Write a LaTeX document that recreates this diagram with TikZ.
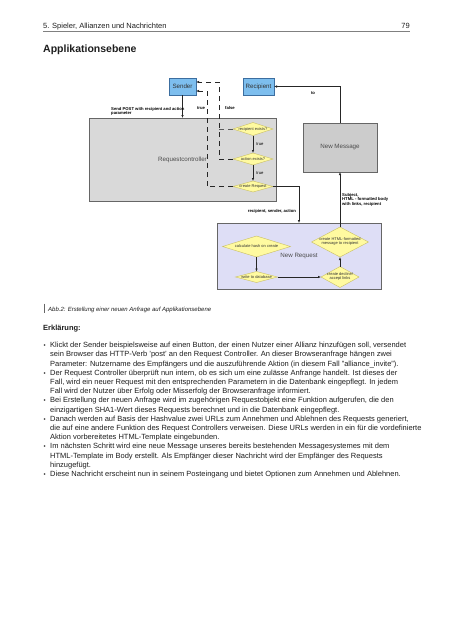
\documentclass[tikz,border=0pt]{standalone}
\usepackage{fontspec}
\setmainfont{Liberation Sans}
\usetikzlibrary{shapes.geometric,arrows.meta,calc}
\newcommand\myfs[2]{\fontsize{#1}{#2}\selectfont}
\newcommand\zw[1]{\makebox[0pt]{#1}}
\newcommand\zwt[2]{\makebox[0pt]{\begin{tabular}{@{}c@{}}#1\\[-0.6pt]#2\end{tabular}}}
\definecolor{bluefill}{RGB}{125,190,238}
\definecolor{blueline}{RGB}{60,110,160}
\definecolor{diafill}{RGB}{255,250,160}
\definecolor{dialine}{RGB}{200,190,100}
\definecolor{nrfill}{RGB}{222,222,246}
\definecolor{txt}{RGB}{30,30,30}
\tikzset{
  arr/.style={-{Latex[length=3pt,width=2.4pt]}, draw=black!85, line width=0.5},
  dsh/.style={dash pattern=on 5pt off 4pt, draw=black!65, line width=0.5},
  bluebox/.style={draw=blueline, fill=bluefill, line width=0.6, inner sep=0, outer sep=0, font=\myfs{6.2}{7}, text=black!80},
  graybox/.style={draw=black!60, fill=black!15, line width=0.6, inner sep=0, outer sep=0, font=\myfs{6.2}{7}, text=black!70},
  nrbox/.style={draw=black!60, fill=nrfill, line width=0.6, inner sep=0, outer sep=0, font=\myfs{6.2}{7}, text=black!70},
  dia/.style={diamond, draw=dialine, fill=diafill, inner sep=0, outer sep=0, line width=0.4, font=\myfs{4}{4.6}, text=black!80},
  lbl/.style={font=\bfseries\myfs{4.2}{4.6}, inner sep=0, text=black},
  body/.style={font=\myfs{7.5}{9}, anchor=base west, inner sep=0, text=txt},
  bul/.style={font=\myfs{6}{9}, anchor=base west, inner sep=0, text=txt},
}
\begin{document}
\begin{tikzpicture}[x=1pt,y=-1pt]
\useasboundingbox[fill=white] (0,0) rectangle (453,640);

% header
\node[body] (hdr) at (43,28) {5. Spieler, Allianzen und Nachrichten};
\node[body, anchor=base east] (pg) at (410,28) {79};
\coordinate (r1) at (43,31);
\coordinate (r2) at (410,31);
\draw[black!50, line width=0.6] (r1) -- (r2);
\node[font=\bfseries\myfs{10.5}{12}, anchor=base west, inner sep=0, text=txt] (title) at (43,52) {Applikationsebene};

% boxes
\node[graybox, minimum width=187, minimum height=83] (rc) at (182.5,159.5) {Requestcontroller};
\node[graybox, fill=black!20, minimum width=74, minimum height=49] (nm) at (340,147.5) {New Message};
\node[nrbox, minimum width=164, minimum height=66] (nr) at (299,256) {\hspace*{0pt}New Request};
\node[bluebox, minimum width=27, minimum height=17] (sender) at (182.5,86.5) {Sender};
\node[bluebox, minimum width=31, minimum height=17] (recipient) at (258.5,86.5) {Recipient};

% diamonds in request controller
\node[dia, minimum width=40, minimum height=13] (rex) at (253,129) {\zw{recipient exists?}};
\node[dia, minimum width=40, minimum height=12] (aex) at (253,159) {\zw{action exists?}};
\node[dia, minimum width=40, minimum height=11] (cr) at (253,186.5) {\zw{create Request}};

% diamonds in new request
\node[dia, minimum width=68, minimum height=21] (calc) at (256.5,246.5) {\zw{calculate hash on create}};
\node[dia, minimum width=42, minimum height=11] (wdb) at (256.5,277) {\zw{write to database}};
\node[dia, minimum width=38, minimum height=21] (cdl) at (340,277) {\zwt{create decline/}{accept links}};
\node[dia, minimum width=57, minimum height=30] (chtml) at (340,242) {\zwt{create HTML-formatted}{message to recipient}};

% coordinates for dashed returns
\coordinate (sU) at ($(sender.east)+(0,-4.5)$);
\coordinate (sL) at ($(sender.east)+(0,4.5)$);
\coordinate (fx) at (219,0);
\coordinate (tx) at (207,0);

% connectors
\draw[arr] (sender.south) -- (sender.south |- rc.north);
\draw[arr] (nm.north) |- (recipient.east);
\draw[arr] (rex.south) -- node[lbl, right=3pt, font=\myfs{4.2}{4.6}] (t1) {true} (aex.north);
\draw[arr] (aex.south) -- node[lbl, right=3pt, font=\myfs{4.2}{4.6}] (t2) {true} (cr.north);
\draw[arr] (cr.east) -| (nr.north);
\draw[dsh] (rex.west) -- (rex.west -| fx);
\draw[dsh, arr, dash pattern=on 5pt off 4pt] (aex.west) -| (fx |- sU) -- (sU);
\draw[dsh, arr, dash pattern=on 5pt off 4pt] (cr.west) -| (tx |- sL) -- (sL);
\draw[arr] (calc.south) -- (wdb.north);
\draw[arr] (wdb.east) -- (cdl.west);
\draw[arr] (cdl.north) -- (chtml.south);
\draw[arr] (chtml.north) -- (nm.south);

% labels
\node[lbl, anchor=north west, align=left] (post) at (111,107) {Send POST with recipient and action\\parameter};
\node[lbl] (ltrue) at (201,108) {true};
\node[lbl] (lfalse) at (230,107.5) {false};
\node[lbl] (lto) at (313,93) {to};
\node[lbl] (lrsa) at (272,211) {recipient, sender, action};
\node[lbl, anchor=north west, align=left] (lsub) at (342,193) {Subject,\\HTML - formatted body\\with links, recipient};

% caption
\coordinate (cb1) at (44.5,303.5);
\coordinate (cb2) at (44.5,313);
\draw[black!60, line width=0.5] (cb1) -- (cb2);
\node[font=\itshape\myfs{6}{7}, anchor=base west, inner sep=0, text=txt] (cap) at (48,311) {Abb.2: Erstellung einer neuen Anfrage auf Applikationsebene};
\node[font=\bfseries\myfs{7.5}{9}, anchor=base west, inner sep=0, text=txt] (erk) at (43,330) {Erklärung:};

% body
\node[bul] (b1) at (43.5,347.7) {•};
\node[body] (l1) at (50,347.7) {Klickt der Sender beispielsweise auf einen Button, der einen Nutzer einer Allianz hinzufügen soll, versendet};
\node[body] (l2) at (50,356.9) {sein Browser das HTTP-Verb 'post' an den Request Controller. An dieser Browseranfrage hängen zwei};
\node[body] (l3) at (50,366.1) {Parameter: Nutzername des Empfängers und die auszuführende Aktion (in diesem Fall "alliance\_invite").};
\node[bul] (b2) at (43.5,375.3) {•};
\node[body] (l4) at (50,375.3) {Der Request Controller überprüft nun intern, ob es sich um eine zulässe Anfrange handelt. Ist dieses der};
\node[body] (l5) at (50,384.5) {Fall, wird ein neuer Request mit den entsprechenden Parametern in die Datenbank eingepflegt. In jedem};
\node[body] (l6) at (50,393.7) {Fall wird der Nutzer über Erfolg oder Misserfolg der Browseranfrage informiert.};
\node[bul] (b3) at (43.5,402.9) {•};
\node[body] (l7) at (50,402.9) {Bei Erstellung der neuen Anfrage wird im zugehörigen Requestobjekt eine Funktion aufgerufen, die den};
\node[body] (l8) at (50,412.1) {einzigartigen SHA1-Wert dieses Requests berechnet und in die Datenbank eingepflegt.};
\node[bul] (b4) at (43.5,421.3) {•};
\node[body] (l9) at (50,421.3) {Danach werden auf Basis der Hashvalue zwei URLs zum Annehmen und Ablehnen des Requests generiert,};
\node[body] (l10) at (50,430.5) {die auf eine andere Funktion des Request Controllers verweisen. Diese URLs werden in ein für die vordefinierte};
\node[body] (l11) at (50,439.7) {Aktion vorbereitetes HTML-Template eingebunden.};
\node[bul] (b5) at (43.5,448.9) {•};
\node[body] (l12) at (50,448.9) {Im nächsten Schritt wird eine neue Message unseres bereits bestehenden Messagesystemes mit dem};
\node[body] (l13) at (50,458.1) {HTML-Template im Body erstellt. Als Empfänger dieser Nachricht wird der Empfänger des Requests};
\node[body] (l14) at (50,467.3) {hinzugefügt.};
\node[bul] (b6) at (43.5,476.5) {•};
\node[body] (l15) at (50,476.5) {Diese Nachricht erscheint nun in seinem Posteingang und bietet Optionen zum Annehmen und Ablehnen.};
\end{tikzpicture}
\end{document}
